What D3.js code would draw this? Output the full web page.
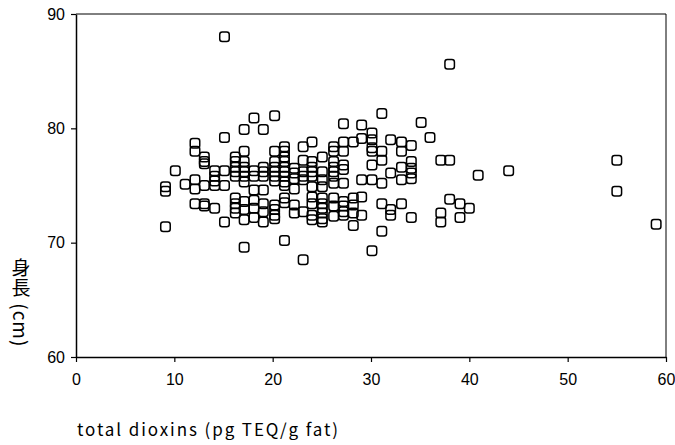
<!DOCTYPE html>
<html><head><meta charset="utf-8">
<script src="https://cdn.jsdelivr.net/npm/d3@7"></script>
<style>
html,body{margin:0;padding:0;background:#fff;}
svg{display:block;}
</style></head>
<body><svg id="c" width="675" height="445"></svg>
<script>
// total dioxins (pg TEQ/g fat) and height (cm), one entry per child
const dioxin = [
 9.1,9.1,9.1, 10.1, 11.1,
 12.1,12.1,12.1,12.1,12.1,
 13.05,13.05,13.05,13.05,13.05,13.05,
 14.1,14.1,14.1,14.1,14.1,
 15.1,15.1,15.1,15.1,15.1,
 16.2,16.2,16.2,16.2,16.2,16.2,16.2,16.2,16.2,
 17.1,17.1,17.1,17.1,17.1,17.1,17.1,17.1,17.1,17.1,17.1,
 18.1,18.1,18.1,18.1,18.1,18.1,18.1,
 19.05,19.05,19.05,19.05,19.05,19.05,19.05,19.05,
 20.2,20.2,20.2,20.2,20.2,20.2,20.2,20.2,20.2,20.2,20.2,
 21.2,21.2,21.2,21.2,21.2,21.2,21.2,21.2,21.2,21.2,21.2,21.2,
 22.2,22.2,22.2,22.2,22.2,22.2,
 23.1,23.1,23.1,23.1,23.1,23.1,23.1,
 24.0,24.0,24.0,24.0,24.0,24.0,24.0,24.0,24.0,24.0,
 25.05,25.05,25.05,25.05,25.05,25.05,25.05,25.05,25.05,25.05,
 26.2,26.2,26.2,26.2,26.2,26.2,26.2,26.2,26.2,26.2,
 27.2,27.2,27.2,27.2,27.2,27.2,27.2,27.2,27.2,27.2,
 28.2,28.2,28.2,28.2,28.2,
 29.05,29.05,29.05,29.05,29.05,
 30.1,30.1,30.1,30.1,30.1,30.1,30.1,
 31.1,31.1,31.1,31.1,31.1,31.1,
 32.0,32.0,32.0,32.0,
 33.1,33.1,33.1,33.1,33.1,
 34.1,34.1,34.1,34.1,34.1,34.1,
 35.1, 36.0,
 37.1,37.1,37.1,
 38.0,38.0,38.0,
 39.05,39.05, 40.0, 40.9, 44.0,
 55.0,55.0, 59.0
];
const heightCm = [
 71.4,74.5,74.9, 76.3, 75.1,
 78.7,78.0,75.5,74.7,73.4,
 77.5,77.1,76.9,75.0,73.4,73.2,
 76.3,75.8,75.4,75.0,73.0,
 88.0,79.2,76.3,75.0,71.8,
 77.5,77.1,76.6,76.2,75.8,73.9,73.4,73.0,72.6,
 79.9,78.0,77.1,76.6,76.2,75.8,75.3,73.6,72.9,72.0,69.6,
 80.9,76.3,75.8,74.6,73.7,73.0,72.2,
 79.9,76.6,76.2,75.8,74.6,73.4,72.7,71.8,
 81.1,78.0,77.1,76.6,76.2,75.8,75.4,73.3,72.9,72.4,72.1,
 78.4,78.0,77.5,77.1,76.6,76.2,75.8,75.3,75.0,73.9,73.5,70.2,
 76.5,76.1,75.6,74.7,73.3,72.6,
 78.4,77.2,76.2,75.8,75.5,72.7,68.5,
 78.8,77.1,76.6,76.2,75.8,74.9,74.0,73.4,72.4,72.0,
 77.5,76.2,75.5,74.9,73.9,73.4,73.0,72.6,72.1,71.8,
 78.4,78.0,77.1,76.6,76.2,75.8,75.2,73.9,73.2,72.3,
 80.4,78.8,78.0,76.8,76.4,75.2,73.6,73.2,72.7,72.4,
 78.8,73.9,73.3,72.6,71.5,
 80.3,79.1,75.5,74.0,72.4,
 79.6,79.0,78.3,78.0,76.8,75.5,69.3,
 81.3,78.0,77.2,75.2,73.4,71.0,
 79.0,76.1,72.9,72.4,
 78.8,78.0,76.6,75.5,73.4,
 78.5,77.1,76.5,76.1,75.6,72.2,
 80.5, 79.2,
 77.2,72.6,71.8,
 85.6,77.2,73.8,
 73.4,72.2, 73.0, 75.9, 76.3,
 77.2,74.5, 71.6
];
const xTicks = [0,10,20,30,40,50,60];
const yTicks = [60,70,80,90];
const xTitle = "total dioxins (pg TEQ/g fat)";
const yTitle = "身長 (cm)";

const W = 675, H = 445;
const m = {left:76, top:14, right:9, bottom:88};
const svg = d3.select("#c");
const x = d3.scaleLinear().domain([0,60]).range([m.left, W-m.right]);
const y = d3.scaleLinear().domain([60,90]).range([H-m.bottom, m.top]);

// frame (top and right)
svg.append("path")
  .attr("d", `M${x(0)},${y(90)}H${x(60)}V${y(60)}`)
  .attr("fill","none").attr("stroke","#000").attr("stroke-width",1);

const fontNum = "'Liberation Sans', Arial, sans-serif";

const gx = svg.append("g").attr("transform",`translate(0,${y(60)})`)
  .call(d3.axisBottom(x).tickValues(xTicks).tickSize(5).tickPadding(12).tickSizeOuter(0));
const gy = svg.append("g").attr("transform",`translate(${x(0)},0)`)
  .call(d3.axisLeft(y).tickValues(yTicks).tickSize(5).tickPadding(6).tickSizeOuter(0));
[gx,gy].forEach(g=>{
  g.select(".domain").attr("stroke","#000").attr("stroke-width",1.5);
  g.selectAll(".tick line").attr("stroke","#000").attr("stroke-width",1.2);
  g.selectAll(".tick text").attr("fill","#000").style("font-family",fontNum).style("font-size","16px");
});

// points
const pts = dioxin.map((d,i)=>({x:d, y:heightCm[i]}));
const s = 9.5;
svg.append("g").selectAll("rect").data(pts).join("rect")
  .attr("x", d=>x(d.x)-s/2).attr("y", d=>y(d.y)-s/2)
  .attr("width", s).attr("height", s).attr("rx", 2.5).attr("ry", 2.5)
  .attr("fill","none").attr("stroke","#000").attr("stroke-width",1.5);

// titles
const fontJP = "'Noto Sans CJK JP', sans-serif";
svg.append("text").attr("x", 77).attr("y", 436)
  .attr("textLength", 261).attr("lengthAdjust","spacing")
  .style("font-family",fontJP).style("font-size","17px")
  .attr("fill","#000").text(xTitle);

// vertical y title (single text, vertical writing mode)
svg.append("text")
  .attr("x", 21).attr("y", 258)
  .style("writing-mode","vertical-rl")
  .style("text-orientation","mixed")
  .style("font-family",fontJP).style("font-size","19px")
  .style("letter-spacing","1px")
  .attr("fill","#000").text(yTitle);
</script></body></html>
